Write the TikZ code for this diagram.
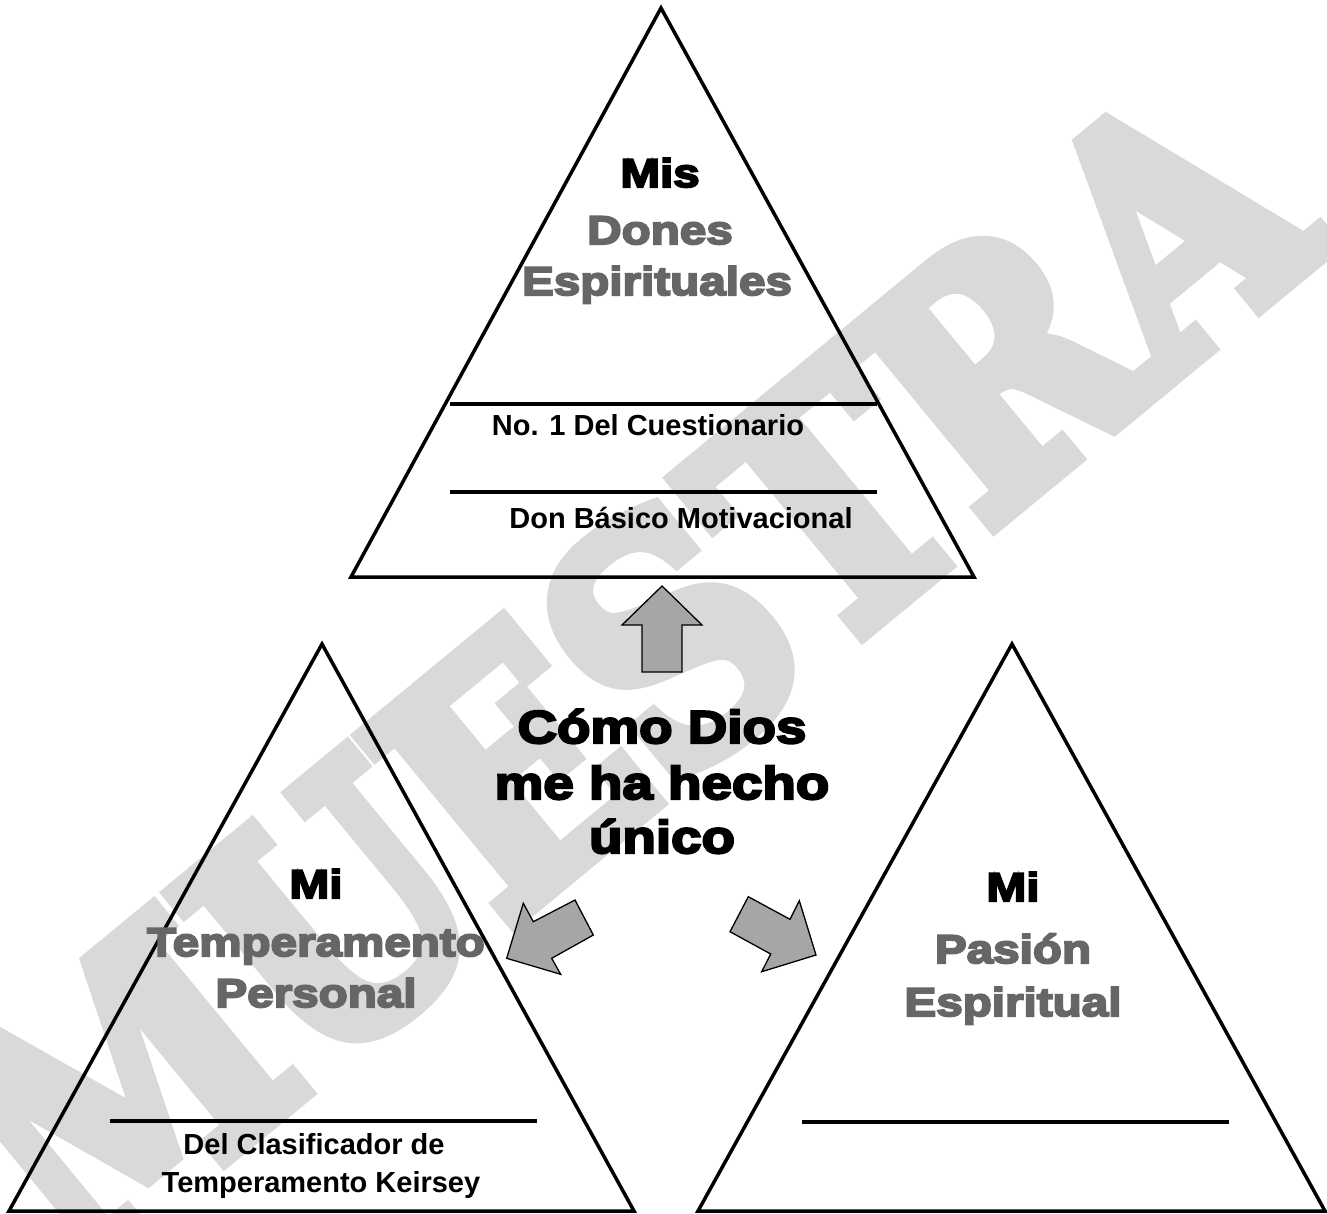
\documentclass[tikz,border=0pt]{standalone}
\usepackage{fontspec}
\setmainfont{Liberation Sans}
\newfontfamily\heavy[FakeStretch=1.19,FakeBold=5]{Liberation Sans}
\newfontfamily\wmfont[FakeBold=6]{DejaVu Serif}
\definecolor{wm}{RGB}{217,217,217}
\definecolor{title}{RGB}{102,102,102}
\definecolor{arrowfill}{RGB}{166,166,166}
\begin{document}
\begin{tikzpicture}[x=1pt,y=-1pt,
  tri/.style={draw=black,line width=3.5pt,line join=miter},
  rule/.style={draw=black,line width=3.5pt},
  blockarrow/.style={draw=black,line width=1.3pt,fill=arrowfill,line join=miter},
  head/.style={inner sep=0pt,anchor=base,font=\heavy\bfseries\fontsize{40}{40}\selectfont,text=black},
  sub/.style={inner sep=0pt,anchor=base,font=\heavy\bfseries\fontsize{40}{40}\selectfont,text=title},
  small/.style={inner sep=0pt,anchor=base,font=\bfseries\fontsize{29}{30}\selectfont,text=black},
  big/.style={inner sep=0pt,anchor=base,font=\heavy\bfseries\fontsize{46}{46}\selectfont,text=black}]
\useasboundingbox (0,0) rectangle (1327,1213);
\fill[white] (0,0) rectangle (1327,1213);
% watermark
\node[rotate=39.5,xscale=0.86,text=wm,inner sep=0pt,font=\wmfont\bfseries\fontsize{325}{325}\selectfont] (wmark) at (628,672) {MUESTRA};
% top triangle
\coordinate (tA) at (661,8);
\coordinate (tL) at (351,577);
\coordinate (tR) at (974,577);
\draw[tri] (tA) -- (tL) -- (tR) -- cycle;
\coordinate (r1a) at (450,404); \coordinate (r1b) at (877,404);
\coordinate (r2a) at (450,492); \coordinate (r2b) at (877,492);
\draw[rule] (r1a) -- (r1b);
\draw[rule] (r2a) -- (r2b);
\node[head] (mis) at (660,187) {Mis};
\node[sub] (dones) at (660,244) {Dones};
\node[sub] (espis) at (657,295) {Espirituales};
\node[small] (cuest) at (648,435) {No. 1 Del Cuestionario};
\node[small] (donb) at (681,528) {Don Básico Motivacional};
% left triangle
\coordinate (lA) at (322,644);
\coordinate (lL) at (9,1211);
\coordinate (lR) at (634,1211);
\draw[tri] (lA) -- (lL) -- (lR) -- cycle;
\coordinate (r3a) at (110,1121); \coordinate (r3b) at (537,1121);
\draw[rule] (r3a) -- (r3b);
\node[head] (mi1) at (316,898) {Mi};
\node[sub] (temp) at (316,956) {Temperamento};
\node[sub] (pers) at (316,1007) {Personal};
\node[small] (clas) at (314,1154) {Del Clasificador de};
\node[small] (keir) at (321,1192) {Temperamento Keirsey};
% right triangle
\coordinate (rA) at (1012,644);
\coordinate (rL) at (698,1211);
\coordinate (rR) at (1325,1211);
\draw[tri] (rA) -- (rL) -- (rR) -- cycle;
\coordinate (r4a) at (802,1122); \coordinate (r4b) at (1229,1122);
\draw[rule] (r4a) -- (r4b);
\node[head] (mi2) at (1013,901) {Mi};
\node[sub] (pasion) at (1013,963) {Pasión};
\node[sub] (espi) at (1013,1016) {Espiritual};
% centre text
\node[big] (como) at (662,743) {Cómo Dios};
\node[big] (meha) at (662,799) {me ha hecho};
\node[big] (unico) at (662,853) {único};
% block arrows
\draw[blockarrow] (662,586) -- (702,625) -- (682,625) -- (682,672) -- (642,672) -- (642,625) -- (622,625) -- cycle;
\draw[blockarrow] (506.7,958.3) -- (523.3,903.3) -- (533.3,921.7) -- (575,900) -- (593.3,935) -- (551.7,958.3) -- (560.7,974.3) -- cycle;
\draw[blockarrow] (748.3,896.7) -- (790,919.3) -- (799.3,900.7) -- (816,955) -- (761.7,971.7) -- (770.7,954) -- (730,931.7) -- cycle;
\end{tikzpicture}
\end{document}
